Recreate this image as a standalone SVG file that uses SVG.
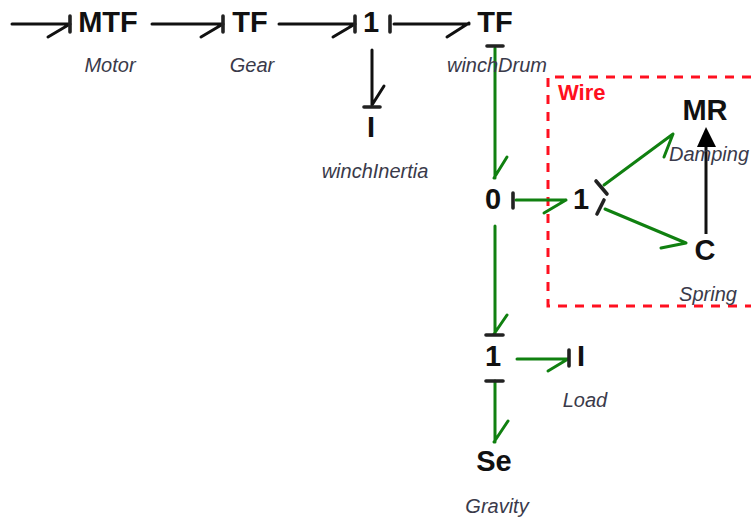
<svg xmlns="http://www.w3.org/2000/svg" width="751" height="519" viewBox="0 0 751 519">
<style>
.n{font:bold 29px "Liberation Sans",Arial,sans-serif;fill:#111;text-anchor:middle}
.l{font:italic 20px "Liberation Sans",Arial,sans-serif;fill:#3a3a4a;text-anchor:middle}
.k,.g,.b{fill:none;stroke-width:3;stroke-linecap:round;stroke-linejoin:round}
.k{stroke:#111}.g{stroke:#108010}.b{stroke:#222;stroke-width:3.6}
</style>
<rect width="751" height="519" fill="#fff"/>
<g id="wire-box">
<path d="M751 77H548V306H751" fill="none" stroke="#ff1020" stroke-width="3" stroke-dasharray="9 8"/>
<text x="558" y="100" style="font:bold 22px 'Liberation Sans',Arial,sans-serif;fill:#ff1020">Wire</text>
</g>
<g id="connectors">
<path class="k" d="M12 24H70M48 37L70 24"/><path class="b" d="M70 16V32"/>
<path class="k" d="M152 24H223M201 37L223 24"/><path class="b" d="M223 16V32"/>
<path class="k" d="M279 24H355M333 37L355 24"/><path class="b" d="M355 16V32"/>
<path class="k" d="M394 24H469M447 37L469 23"/><path class="b" d="M390 16V32"/>
<path class="k" d="M372 50L372 105M384 86L372 105"/><path class="b" d="M364 107H380"/>
<path class="g" d="M495 48L495 178M507 157L494 178"/><path class="b" d="M487 46H503"/>
<path class="g" d="M516 200H566M544 213L566 200"/><path class="b" d="M513 193V208"/>
<path class="g" d="M604 185L673 134M664 157L673 134"/><path class="b" d="M596 181L607 194"/>
<path class="g" d="M605 209L686 243M661 248L686 243"/><path class="b" d="M597 214L604 200"/>
<path class="g" d="M495 226V334M507 315L494 334"/><path class="b" d="M486 335H503"/>
<path class="g" d="M517 359H568M548 371L568 359"/><path class="b" d="M569 350V366"/>
<path class="g" d="M495 381V442M508 421L494 442"/><path class="b" d="M486 381H503"/>
<path d="M706 234V140" fill="none" stroke="#111" stroke-width="3"/>
<path d="M697 147H716L706 127Z" fill="#000"/>
</g>
<g id="mtf"><text class="n" x="108" y="32">MTF</text><text class="l" x="110" y="72">Motor</text></g>
<g id="gear"><text class="n" x="250" y="32">TF</text><text class="l" x="252" y="72">Gear</text></g>
<g id="j1"><text class="n" x="371" y="32">1</text></g>
<g id="winchDrum"><text class="n" x="495" y="32">TF</text><text class="l" x="497" y="72">winchDrum</text></g>
<g id="winchInertia"><text class="n" x="371" y="137">I</text><text class="l" x="375" y="178">winchInertia</text></g>
<g id="j0"><text class="n" x="493" y="209">0</text></g>
<g id="j2"><text class="n" x="581" y="209">1</text></g>
<g id="damping"><text class="n" x="705" y="120">MR</text><text class="l" x="709" y="161">Damping</text></g>
<g id="spring"><text class="n" x="705" y="260">C</text><text class="l" x="708" y="301">Spring</text></g>
<g id="j3"><text class="n" x="493" y="366">1</text></g>
<g id="load"><text class="n" x="581" y="366">I</text><text class="l" x="585" y="407">Load</text></g>
<g id="gravity"><text class="n" x="494" y="471">Se</text><text class="l" x="497" y="513">Gravity</text></g>
</svg>
